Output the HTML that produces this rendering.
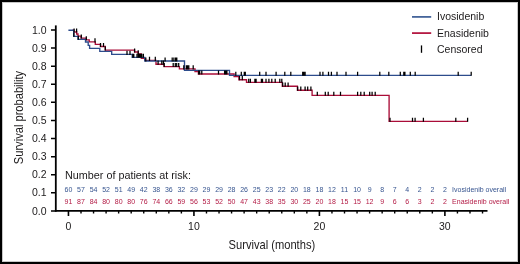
<!DOCTYPE html>
<html><head><meta charset="utf-8"><style>
html,body{margin:0;padding:0;background:#fff;}
body{width:520px;height:264px;overflow:hidden;position:relative;}
#frame{position:absolute;left:0;top:0;width:520px;height:264px;box-sizing:border-box;border:2px solid #000;box-shadow:inset 0 0 0 1px rgba(0,0,0,0.22);}
svg{position:absolute;left:0;top:0;will-change:transform;}
text{font-family:"Liberation Sans",sans-serif;}
</style></head><body>
<div id="frame"></div>
<svg width="520" height="264" viewBox="0 0 520 264">
<g fill="none" stroke="#000" stroke-linecap="butt">
<path d="M55.8,25.4V211.7" stroke-width="1.8"/>
<path d="M54.9,210.8H487.5" stroke-width="1.8"/>
<path d="M51,30.00H55.5M51,48.09H55.5M51,66.18H55.5M51,84.27H55.5M51,102.36H55.5M51,120.45H55.5M51,138.54H55.5M51,156.63H55.5M51,174.72H55.5M51,192.81H55.5M51,210.90H55.5" stroke-width="1.5"/>
<path d="M81.00,211V213.6M93.55,211V213.6M106.09,211V213.6M118.64,211V213.6M131.19,211V213.6M143.74,211V213.6M156.29,211V213.6M168.83,211V213.6M181.38,211V213.6M206.48,211V213.6M219.03,211V213.6M231.57,211V213.6M244.12,211V213.6M256.67,211V213.6M269.22,211V213.6M281.77,211V213.6M294.31,211V213.6M306.86,211V213.6M331.96,211V213.6M344.51,211V213.6M357.05,211V213.6M369.60,211V213.6M382.15,211V213.6M394.70,211V213.6M407.25,211V213.6M419.79,211V213.6M432.34,211V213.6M457.44,211V213.6M469.99,211V213.6M482.53,211V213.6" stroke-width="1.4"/>
<path d="M68.45,211V215.9M193.93,211V215.9M319.41,211V215.9M444.89,211V215.9" stroke-width="1.6"/>
</g>
<g fill="#1c1a1b" font-size="10.5"><text x="46.6" y="33.60" text-anchor="end">1.0</text><text x="46.6" y="51.69" text-anchor="end">0.9</text><text x="46.6" y="69.78" text-anchor="end">0.8</text><text x="46.6" y="87.87" text-anchor="end">0.7</text><text x="46.6" y="105.96" text-anchor="end">0.6</text><text x="46.6" y="124.05" text-anchor="end">0.5</text><text x="46.6" y="142.14" text-anchor="end">0.4</text><text x="46.6" y="160.23" text-anchor="end">0.3</text><text x="46.6" y="178.32" text-anchor="end">0.2</text><text x="46.6" y="196.41" text-anchor="end">0.1</text><text x="46.6" y="214.50" text-anchor="end">0.0</text><text x="68.45" y="229.8" text-anchor="middle">0</text><text x="193.93" y="229.8" text-anchor="middle">10</text><text x="319.41" y="229.8" text-anchor="middle">20</text><text x="444.89" y="229.8" text-anchor="middle">30</text></g>
<g fill="none" stroke-width="1.35">
<path d="M72.5,30.2H73.7V32.0H76.7V34.0H78.0V36.1H81.1V38.1H86.2V39.8H89.2V41.9H95.3V44.4H100.5V46.5H105.3V50.1H134.6V52.0H138.2V53.8H141.3V58.4H144.8V60.4H156.0V64.2H164.0V66.6H179.4V68.9H195.0V71.6H198.4V74.0H234.1V76.6H238.9V79.7H246.5V82.3H282.3V86.2H297.4V90.2H312.1V95.3H389.1V121.3H467.6" stroke="#aa0d38"/>
<path d="M68.4,30.2H73.7V36.3H78.0V39.3H85.5V42.0H88.2V45.3H89.6V48.3H99.8V51.3H111.7V54.4H132.2V57.3H144.8V61.0H184.5V70.3H229.5V75.3H471.2" stroke="#2d4c8c"/>
</g>
<g fill="none" stroke="#000" stroke-width="1.25">
<path d="M74.1,28.4V32.5M76.6,28.4V32.5M81.3,34.5V38.6M86.3,36.2V40.3M95.0,38.3V42.4M100.5,42.9V47.0M103.5,42.9V47.0M105.3,46.5V50.6M134.6,48.4V52.5M138.2,50.2V54.3M149.5,56.8V60.9M155.3,56.8V60.9M158.1,60.6V64.7M161.8,60.6V64.7M163.5,60.6V64.7M164.2,63.0V67.1M173.2,63.0V67.1M175.3,63.0V67.1M176.7,63.0V67.1M178.7,63.0V67.1M183.8,65.3V69.4M186.4,65.3V69.4M187.5,65.3V69.4M188.8,65.3V69.4M193.2,65.3V69.4M198.7,70.4V74.5M199.7,70.4V74.5M201.8,70.4V74.5M218.5,70.4V74.5M224.6,70.4V74.5M225.8,70.4V74.5M226.9,70.4V74.5M239.5,76.1V80.2M242.3,76.1V80.2M248.7,78.7V82.8M250.4,78.7V82.8M254.9,78.7V82.8M256.1,78.7V82.8M261.4,78.7V82.8M262.5,78.7V82.8M266.0,78.7V82.8M268.9,78.7V82.8M271.8,78.7V82.8M275.2,78.7V82.8M279.8,78.7V82.8M281.8,78.7V82.8M282.7,82.6V86.7M285.2,82.6V86.7M288.1,82.6V86.7M297.7,86.6V90.7M300.8,86.6V90.7M305.1,86.6V90.7M307.7,86.6V90.7M310.9,86.6V90.7M317.3,91.7V95.8M325.3,91.7V95.8M328.2,91.7V95.8M333.8,91.7V95.8M340.5,91.7V95.8M357.6,91.7V95.8M360.8,91.7V95.8M364.2,91.7V95.8M369.7,91.7V95.8M372.1,91.7V95.8M375.2,91.7V95.8M390.0,117.7V121.8M412.5,117.7V121.8M415.1,117.7V121.8M423.4,117.7V121.8M455.8,117.7V121.8M467.6,117.7V121.8"/>
<path d="M73.9,32.7V36.8M78.3,35.7V39.8M127.0,50.8V54.9M130.0,50.8V54.9M132.8,53.7V57.8M133.8,53.7V57.8M137.0,53.7V57.8M138.4,53.7V57.8M139.6,53.7V57.8M140.6,53.7V57.8M141.8,53.7V57.8M143.4,53.7V57.8M145.8,57.4V61.5M165.1,57.4V61.5M172.2,57.4V61.5M173.9,57.4V61.5M175.6,57.4V61.5M176.8,57.4V61.5M235.8,71.7V75.8M241.3,71.7V75.8M244.3,71.7V75.8M245.3,71.7V75.8M259.7,71.7V75.8M266.0,71.7V75.8M276.1,71.7V75.8M284.8,71.7V75.8M290.8,71.7V75.8M302.7,71.7V75.8M303.8,71.7V75.8M305.1,71.7V75.8M320.0,71.7V75.8M322.9,71.7V75.8M328.5,71.7V75.8M331.4,71.7V75.8M337.0,71.7V75.8M346.0,71.7V75.8M357.6,71.7V75.8M379.8,71.7V75.8M388.8,71.7V75.8M400.3,71.7V75.8M403.8,71.7V75.8M404.9,71.7V75.8M410.3,71.7V75.8M415.2,71.7V75.8M458.2,71.7V75.8M471.2,71.7V75.8"/>
</g>
<g>
<path d="M412,16.9H431.2" stroke="#46659b" stroke-width="1.8"/>
<path d="M412,33.1H431.2" stroke="#b51a43" stroke-width="1.8"/>
<path d="M421.5,45.4V52.8" stroke="#000" stroke-width="1.3"/>
</g>
<g fill="#1c1a1b" font-size="10.5">
<text x="437" y="20.3">Ivosidenib</text>
<text x="437" y="36.7">Enasidenib</text>
<text x="437" y="52.6">Censored</text>
<text x="65" y="178.6" font-size="10.8">Number of patients at risk:</text>
</g>
<g font-size="7" fill="#36548f"><text x="68.45" y="191.9" text-anchor="middle">60</text><text x="81.00" y="191.9" text-anchor="middle">57</text><text x="93.55" y="191.9" text-anchor="middle">54</text><text x="106.09" y="191.9" text-anchor="middle">52</text><text x="118.64" y="191.9" text-anchor="middle">51</text><text x="131.19" y="191.9" text-anchor="middle">49</text><text x="143.74" y="191.9" text-anchor="middle">42</text><text x="156.29" y="191.9" text-anchor="middle">38</text><text x="168.83" y="191.9" text-anchor="middle">36</text><text x="181.38" y="191.9" text-anchor="middle">32</text><text x="193.93" y="191.9" text-anchor="middle">29</text><text x="206.48" y="191.9" text-anchor="middle">29</text><text x="219.03" y="191.9" text-anchor="middle">29</text><text x="231.57" y="191.9" text-anchor="middle">28</text><text x="244.12" y="191.9" text-anchor="middle">26</text><text x="256.67" y="191.9" text-anchor="middle">25</text><text x="269.22" y="191.9" text-anchor="middle">23</text><text x="281.77" y="191.9" text-anchor="middle">22</text><text x="294.31" y="191.9" text-anchor="middle">20</text><text x="306.86" y="191.9" text-anchor="middle">18</text><text x="319.41" y="191.9" text-anchor="middle">18</text><text x="331.96" y="191.9" text-anchor="middle">12</text><text x="344.51" y="191.9" text-anchor="middle">11</text><text x="357.05" y="191.9" text-anchor="middle">10</text><text x="369.60" y="191.9" text-anchor="middle">9</text><text x="382.15" y="191.9" text-anchor="middle">8</text><text x="394.70" y="191.9" text-anchor="middle">7</text><text x="407.25" y="191.9" text-anchor="middle">4</text><text x="419.79" y="191.9" text-anchor="middle">2</text><text x="432.34" y="191.9" text-anchor="middle">2</text><text x="444.89" y="191.9" text-anchor="middle">2</text><text x="452.1" y="191.9">Ivosidenib overall</text></g>
<g font-size="7" fill="#b31b45"><text x="68.45" y="203.7" text-anchor="middle">91</text><text x="81.00" y="203.7" text-anchor="middle">87</text><text x="93.55" y="203.7" text-anchor="middle">84</text><text x="106.09" y="203.7" text-anchor="middle">80</text><text x="118.64" y="203.7" text-anchor="middle">80</text><text x="131.19" y="203.7" text-anchor="middle">80</text><text x="143.74" y="203.7" text-anchor="middle">76</text><text x="156.29" y="203.7" text-anchor="middle">74</text><text x="168.83" y="203.7" text-anchor="middle">66</text><text x="181.38" y="203.7" text-anchor="middle">59</text><text x="193.93" y="203.7" text-anchor="middle">56</text><text x="206.48" y="203.7" text-anchor="middle">53</text><text x="219.03" y="203.7" text-anchor="middle">52</text><text x="231.57" y="203.7" text-anchor="middle">50</text><text x="244.12" y="203.7" text-anchor="middle">47</text><text x="256.67" y="203.7" text-anchor="middle">43</text><text x="269.22" y="203.7" text-anchor="middle">38</text><text x="281.77" y="203.7" text-anchor="middle">35</text><text x="294.31" y="203.7" text-anchor="middle">30</text><text x="306.86" y="203.7" text-anchor="middle">25</text><text x="319.41" y="203.7" text-anchor="middle">20</text><text x="331.96" y="203.7" text-anchor="middle">18</text><text x="344.51" y="203.7" text-anchor="middle">15</text><text x="357.05" y="203.7" text-anchor="middle">15</text><text x="369.60" y="203.7" text-anchor="middle">12</text><text x="382.15" y="203.7" text-anchor="middle">9</text><text x="394.70" y="203.7" text-anchor="middle">6</text><text x="407.25" y="203.7" text-anchor="middle">6</text><text x="419.79" y="203.7" text-anchor="middle">3</text><text x="432.34" y="203.7" text-anchor="middle">2</text><text x="444.89" y="203.7" text-anchor="middle">2</text><text x="452.1" y="203.7">Enasidenib overall</text></g>
<g fill="#1c1a1b" font-size="12.8">
<text x="271.9" y="248.8" text-anchor="middle" transform="translate(271.9,0) scale(0.87,1) translate(-271.9,0)">Survival (months)</text>
<text transform="translate(23.3,117.5) rotate(-90) scale(0.87,1)" x="0" y="0" text-anchor="middle">Survival probability</text>
</g>
</svg>
</body></html>
